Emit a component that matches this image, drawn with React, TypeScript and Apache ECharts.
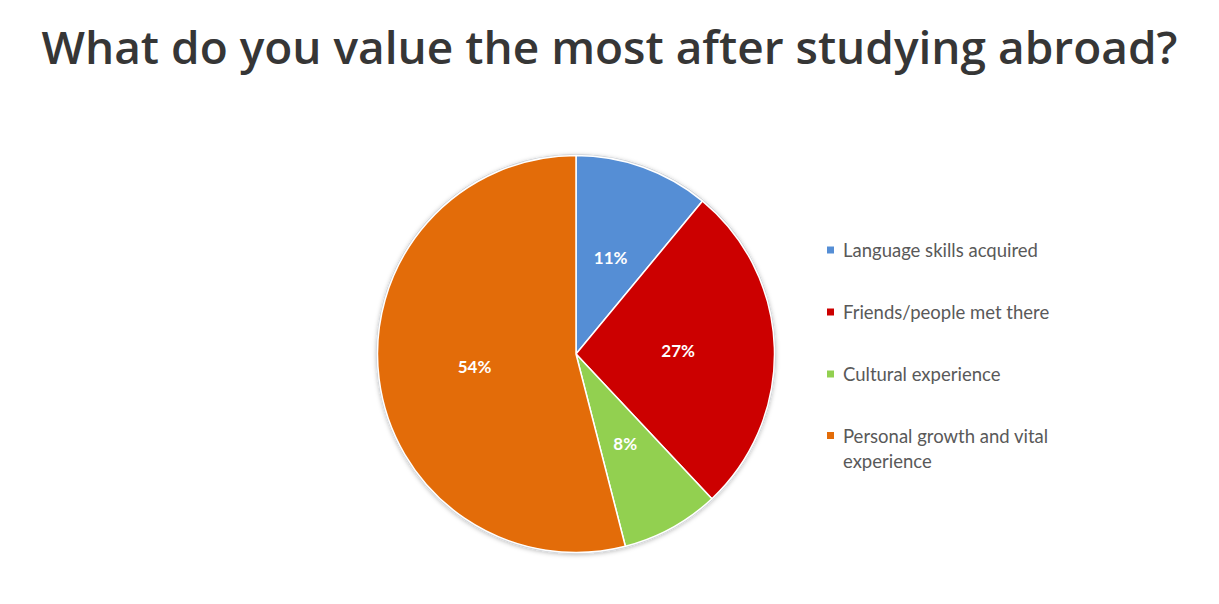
import React, { useEffect, useRef } from "react";
import * as echarts from "echarts";

const titleText = "What do you value the most after studying abroad?";
const categories = [
  "Language skills acquired",
  "Friends/people met there",
  "Cultural experience",
  "Personal growth and vital experience",
];
const values = [11, 27, 8, 54];
const colors = ["#558ed5", "#cc0000", "#92d050", "#e36c09"];
const wrappedLabels: Record<string, string> = {
  "Personal growth and vital experience": "Personal growth and vital\nexperience",
};

export default function App() {
  const ref = useRef<HTMLDivElement>(null);
  useEffect(() => {
    document.body.style.margin = "0";
    if (!ref.current) return;
    const chart = echarts.init(ref.current, null, { renderer: "svg" });
    const legendText = {
      color: "#595959",
      fontFamily: "Lato",
      fontSize: 18.5,
      lineHeight: 20,
      padding: [0, 0, 0, 3],
    };
    chart.setOption({
      animation: false,
      backgroundColor: "#ffffff",
      title: {
        text: titleText,
        left: "center",
        top: 18,
        textStyle: {
          fontFamily: "Open Sans",
          fontWeight: 600,
          fontSize: 46,
          color: "#363636",
        },
      },
      legend: [
        {
          data: categories.slice(0, 3),
          orient: "vertical",
          left: 825,
          top: 240,
          padding: 0,
          itemGap: 42,
          itemWidth: 9,
          itemHeight: 9,
          icon: "rect",
          textStyle: legendText,
        },
        {
          data: [
            {
              name: categories[3],
              icon: "path://M0,0h9v9h-9zM0,33.99h0.01v0.01h-0.01z",
            },
          ],
          orient: "vertical",
          left: 825,
          top: 423,
          padding: 0,
          itemWidth: 9,
          itemHeight: 34,
          formatter: (name: string) => wrappedLabels[name] || name,
          textStyle: { ...legendText, lineHeight: 25 },
        },
      ],
      series: [
        {
          type: "pie",
          name: "rim",
          silent: true,
          center: [576, 354],
          radius: 200,
          label: { show: false },
          labelLine: { show: false },
          itemStyle: {
            color: "#cfd3d8",
            shadowBlur: 4,
            shadowColor: "rgba(0,0,0,0.25)",
            shadowOffsetY: 1,
          },
          data: [{ name: "rim", value: 1 }],
          z: 1,
        },
        {
          type: "pie",
          name: "Value",
          center: [576, 354],
          radius: 198.5,
          startAngle: 90,
          clockwise: true,
          avoidLabelOverlap: false,
          data: categories.map((c, i) => ({
            name: c,
            value: values[i],
            itemStyle: { color: colors[i] },
          })),
          itemStyle: { borderColor: "#ffffff", borderWidth: 1.5 },
          label: {
            show: true,
            position: "inside",
            formatter: "{c}%",
            color: "#ffffff",
            fontFamily: "Lato",
            fontWeight: "bold",
            fontSize: 17,
          },
          labelLine: { show: false },
          z: 2,
        },
      ],
    });
    return () => chart.dispose();
  }, []);
  return <div ref={ref} style={{ width: 1219, height: 604 }} />;
}
